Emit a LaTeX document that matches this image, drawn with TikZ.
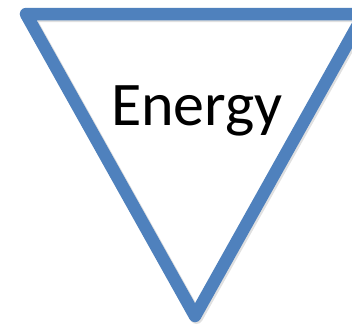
\documentclass[tikz,border=0pt]{standalone}
\usepackage{fontspec}
\setmainfont{Carlito}
\definecolor{triblue}{HTML}{4F81BD}
\begin{document}
\begin{tikzpicture}[x=1pt,y=-1pt,
  triedge/.style={draw=triblue,line width=12.5pt,line join=round},
  trishadow/.style={draw=black!12,line width=13pt,line join=round},
  label/.style={font=\fontsize{62}{62}\selectfont,anchor=base,inner sep=0pt}]
\useasboundingbox (0,0) rectangle (352,324);
\clip (0,0) rectangle (352,324);
\fill[white] (0,0) rectangle (352,324);
\coordinate (tl) at (26,14);
\coordinate (tr) at (364,14);
\coordinate (bt) at (195,316);
\draw[trishadow] ([shift={(1.5,1.5)}]tl) -- ([shift={(1.5,1.5)}]tr) -- ([shift={(1.5,1.5)}]bt) -- cycle;
\draw[triedge] (tl) -- (tr) -- (bt) -- cycle;
\node[label] (energy) at (197,125) {Energy};
\end{tikzpicture}
\end{document}
